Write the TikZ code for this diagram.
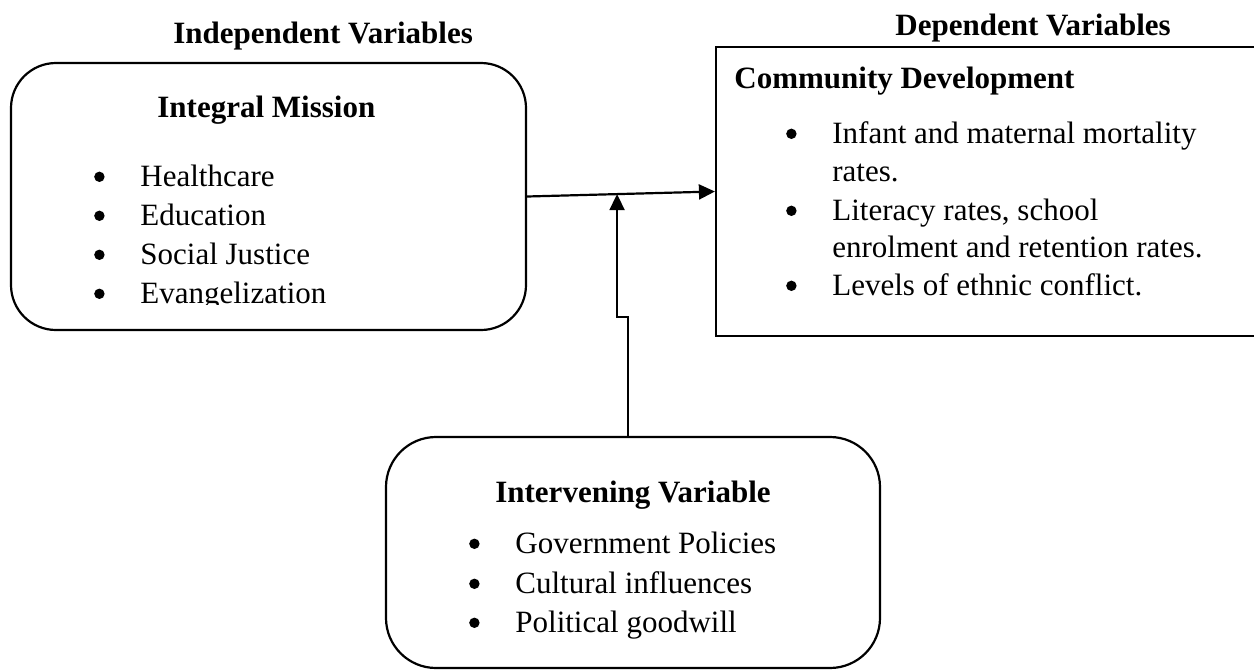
\documentclass[tikz,border=0pt]{standalone}
\usepackage{fontspec}
\setmainfont{Liberation Serif}
\usetikzlibrary{arrows.meta,calc}
\tikzset{
  frame/.style={draw, line width=1.1pt, inner sep=0pt},
  lbl/.style={anchor=base west, inner sep=0pt, font=\fontsize{15.5pt}{19pt}\selectfont},
  head/.style={lbl, font=\fontsize{15.5pt}{19pt}\selectfont\bfseries},
  conn/.style={line width=1.1pt, -{Triangle[length=8pt,width=7.5pt]}},
}
\newcommand\bul{\llap{\tikz[baseline=0pt]\fill (0,4.6pt) circle (2.6pt);\hspace{17.9pt}}}
\begin{document}
\begin{tikzpicture}[x=0.5pt,y=-0.5pt]
\clip (0,0) rectangle (1254,670);
% boxes
\node[frame, rounded corners=22.5pt, minimum width=257.5pt, minimum height=133.5pt] (im) at (268.5,196.5) {};
\node[frame, minimum width=277pt, minimum height=144.5pt] (cd) at (993,191.5) {};
\node[frame, rounded corners=25pt, minimum width=247pt, minimum height=115.5pt] (iv) at (633,552.5) {};
% headings
\node[head] (hind) at (173,43) {Independent Variables};
\node[head] (hdep) at (895,35) {Dependent Variables};
\node[head] (him) at (157,117) {Integral Mission};
\node[head] (hcd) at (734,88) {Community Development};
\node[head, anchor=base] (hiv) at (633,502) {Intervening Variable};
% left items
\node[lbl] (l1) at (140,186) {\bul Healthcare};
\node[lbl] (l2) at (140,225) {\bul Education};
\node[lbl] (l3) at (140,264) {\bul Social Justice};
\begin{scope}
\clip (60,240) rectangle (520,304);
\node[lbl] (l4) at (140,303) {\bul Evangelization};
\end{scope}
% right items
\node[lbl] (r1) at (832,143) {\bul Infant and maternal mortality};
\node[lbl] (r1b) at (832,181) {rates.};
\node[lbl] (r2) at (832,220) {\bul Literacy rates, school};
\node[lbl] (r2b) at (832,257) {enrolment and retention rates.};
\node[lbl] (r3) at (832,295) {\bul Levels of ethnic conflict.};
% bottom items
\node[lbl] (b1) at (515,553) {\bul Government Policies};
\node[lbl] (b2) at (515,593) {\bul Cultural influences};
\node[lbl] (b3) at (515,632) {\bul Political goodwill};
% connectors
\draw[conn] (im.east) -- (cd.west);
\coordinate (t) at ($(im.east)!0.479!(cd.west)$);
\coordinate (k) at (628,317);
\draw[conn] (iv.north -| k) -- (k) -- (k -| t) -- (t);
\end{tikzpicture}
\end{document}
